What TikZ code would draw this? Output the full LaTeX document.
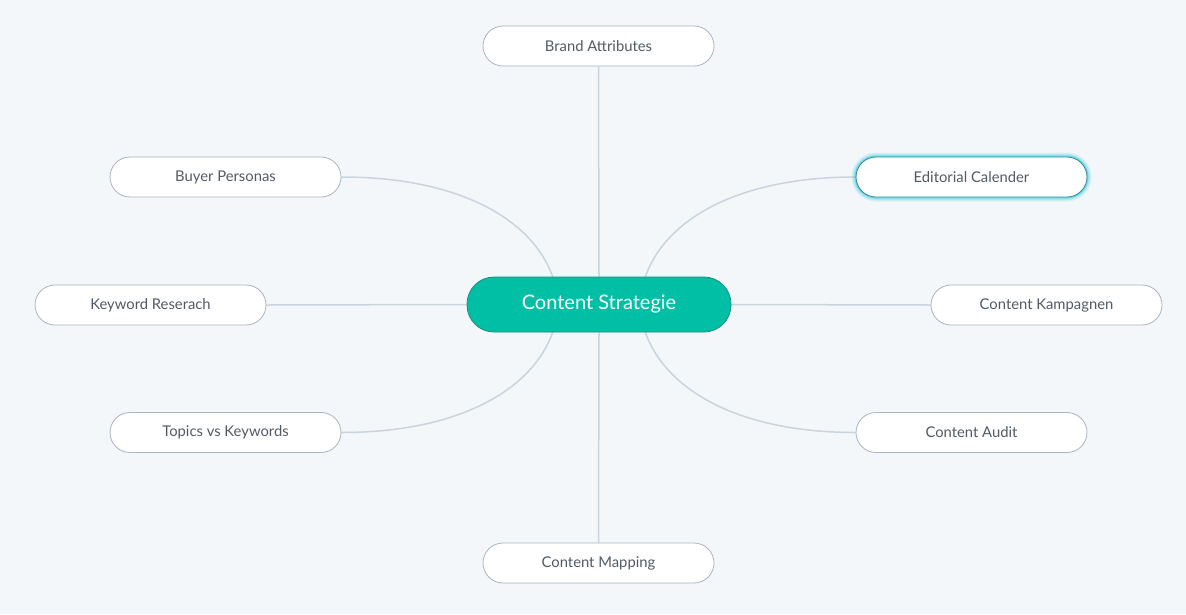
\documentclass[tikz,border=0pt]{standalone}
\usepackage{fontspec}
\setmainfont{Lato}
\usetikzlibrary{calc}
\usetikzlibrary{positioning}

\definecolor{bgcol}{HTML}{F3F7FA}
\definecolor{linkcol}{HTML}{C9D4DF}
\definecolor{rimcol}{HTML}{A9B5C1}
\definecolor{labelcol}{HTML}{4F5B66}
\definecolor{tealcol}{HTML}{00BFA5}
\definecolor{tealrim}{HTML}{1E8C7E}
\definecolor{glowcol}{HTML}{3CC8DC}

\pgfdeclarelayer{back}
\pgfdeclarelayer{links}
\pgfsetlayers{back,links,main}

\tikzset{
  leaf/.style={draw=rimcol, fill=white, line width=0.8pt, rounded corners=20pt,
    minimum width=231pt, minimum height=40pt, text=labelcol,
    font=\fontsize{14.8}{17}\selectfont},
  hub/.style={draw=tealrim, fill=tealcol, line width=0.8pt, rounded corners=27pt,
    minimum width=264pt, minimum height=55pt, text=white,
    font=\fontsize{20}{23}\selectfont},
  link/.style={draw=linkcol, line width=1.5pt},
  glowing/.style={draw=glowcol!70!black,
    preaction={draw=glowcol, line width=9pt, opacity=0.15},
    preaction={draw=glowcol, line width=6pt, opacity=0.25},
    preaction={draw=glowcol, line width=3pt, opacity=0.5}}
}

\begin{document}
\begin{tikzpicture}[x=1pt,y=-1pt]

        % background and size
        \begin{pgfonlayer}{back}
        \fill[bgcol] (0,0) rectangle (1186,614);
        \end{pgfonlayer}
        \useasboundingbox (0,0) rectangle (1186,614);

        % center node
        \node[hub] (cs) at (599,304.5) {Content Strategie};

        % outer nodes
        \node[leaf] (brand) at (598.5,46) {Brand Attributes};
        \node[leaf] (buyer) at (225.5,177) {Buyer Personas};
        \node[leaf, glowing] (editorial) at (971.5,177) {Editorial Calender};
        \node[leaf] (keyword) at (150.5,305) {Keyword Reserach};
        \node[leaf] (kampagnen) at (1046.5,305) {Content Kampagnen};
        \node[leaf] (topics) at (225.5,432.5) {Topics vs Keywords};
        \node[leaf] (audit) at (971.5,432.5) {Content Audit};
        \node[leaf] (mapping) at (598.5,563) {Content Mapping};

        \begin{pgfonlayer}{links}
        % straight links
        \draw[link] (brand.south) -- (cs.north);
        \draw[link] (cs.south) -- (mapping.north);
        \draw[link] (keyword.east) -- (cs.west);
        \draw[link] (cs.east) -- (kampagnen.west);

        % curved links
        \draw[link] (buyer.east) .. controls +(118,0) and +(-20,-58) .. ($(cs.north)+(-46,1)$);
        \draw[link] (editorial.west) .. controls +(-118,0) and +(20,-58) .. ($(cs.north)+(46,1)$);
        \draw[link] (topics.east) .. controls +(118,0) and +(-20,58) .. ($(cs.south)+(-46,-1)$);
        \draw[link] (audit.west) .. controls +(-118,0) and +(20,58) .. ($(cs.south)+(46,-1)$);
        \end{pgfonlayer}

\end{tikzpicture}
\end{document}
